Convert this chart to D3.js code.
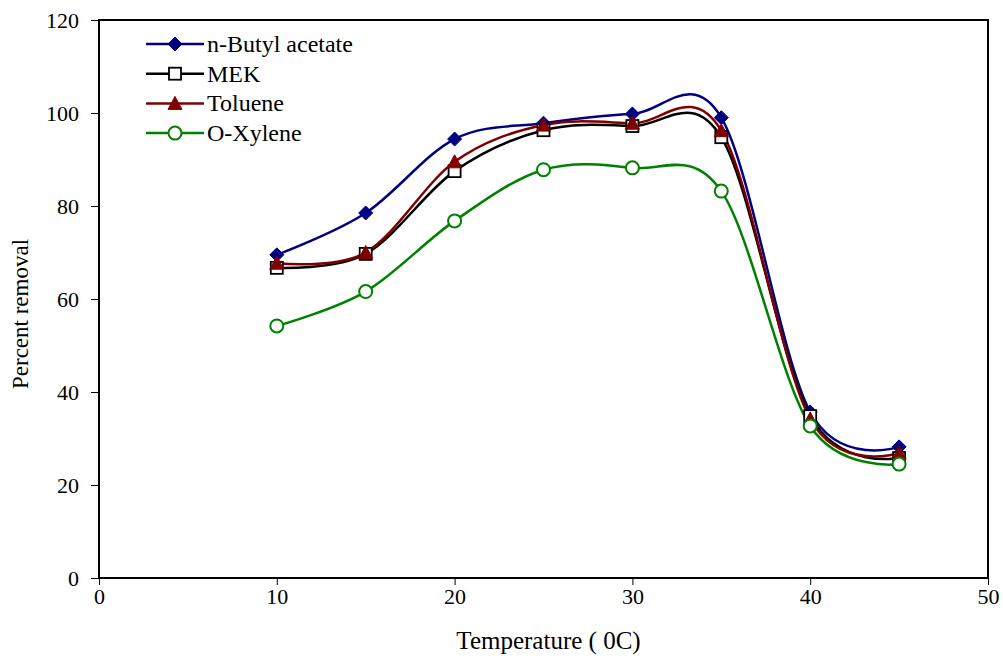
<!DOCTYPE html>
<html>
<head>
<meta charset="utf-8">
<script src="https://cdn.jsdelivr.net/npm/d3@7"></script>
<style>
  html, body { margin: 0; padding: 0; background: #fff; }
  svg { display: block; font-family: "Liberation Serif", "Times New Roman", serif; }
</style>
</head>
<body>
<svg id="chart" width="1003" height="659"></svg>
<script>
// Temperature (°C) readings
const temperatures = [10, 15, 20, 25, 30, 35, 40, 45];

// Percent removal per compound
const butylAcetate = [69.5, 78.5, 94.4, 97.8, 99.8, 99.0, 35.7, 28.2];
const mek          = [66.7, 69.7, 87.5, 96.3, 97.2, 94.8, 34.8, 25.8];
const toluene      = [67.7, 70.0, 89.5, 97.4, 97.8, 96.2, 34.2, 26.9];
const oXylene      = [54.2, 61.6, 76.8, 87.8, 88.2, 83.2, 32.7, 24.5];

const seriesNames = ["n-Butyl acetate", "MEK", "Toluene", "O-Xylene"];
const xTicks = [0, 10, 20, 30, 40, 50];
const yTicks = [0, 20, 40, 60, 80, 100, 120];

const series = [
  { name: seriesNames[0], values: butylAcetate, color: "#000080", marker: "diamond" },
  { name: seriesNames[1], values: mek,          color: "#000000", marker: "square" },
  { name: seriesNames[2], values: toluene,      color: "#800000", marker: "triangle" },
  { name: seriesNames[3], values: oXylene,      color: "#008000", marker: "circle" }
];

const svg = d3.select("#chart");
const margin = { left: 99, right: 15, top: 20, bottom: 81 };
const W = 1003, H = 659;
const serif = "'Liberation Serif', 'Times New Roman', serif";

const x = d3.scaleLinear().domain([0, 50]).range([margin.left, W - margin.right]);
const y = d3.scaleLinear().domain([0, 120]).range([H - margin.bottom, margin.top]);

// Axes
const xAxis = svg.append("g")
  .attr("transform", `translate(0,${y(0)})`)
  .call(d3.axisBottom(x).tickValues(xTicks).tickSize(7).tickPadding(3).tickFormat(d3.format("d")));
const yAxis = svg.append("g")
  .attr("transform", `translate(${x(0)},0)`)
  .call(d3.axisLeft(y).tickValues(yTicks).tickSize(8).tickPadding(12).tickFormat(d3.format("d")));

[xAxis, yAxis].forEach(g => {
  g.select(".domain").remove();
  g.selectAll(".tick line").attr("stroke", "#000").attr("stroke-width", 1);
  g.selectAll(".tick text")
    .attr("fill", "#000")
    .style("font-family", serif)
    .style("font-size", "22px");
});

// Plot frame
svg.append("rect")
  .attr("x", x(0)).attr("y", y(120))
  .attr("width", x(50) - x(0)).attr("height", y(0) - y(120))
  .attr("fill", "none").attr("stroke", "#000").attr("stroke-width", 2);

// Axis titles
svg.append("text")
  .attr("x", (x(0) + x(50)) / 2 + 5).attr("y", 649)
  .attr("text-anchor", "middle")
  .style("font-size", "25px")
  .text("Temperature ( 0C)");

svg.append("text")
  .attr("transform", `translate(28,${(y(0) + y(120)) / 2 + 15}) rotate(-90)`)
  .attr("text-anchor", "middle")
  .style("font-size", "23px")
  .text("Percent removal");

// Marker shapes
function drawMarker(g, type, color, cx, cy) {
  if (type === "diamond") {
    g.append("path")
      .attr("d", `M${cx},${cy - 7}L${cx + 7},${cy}L${cx},${cy + 7}L${cx - 7},${cy}Z`)
      .attr("fill", color).attr("stroke", color).attr("stroke-width", 1);
  } else if (type === "square") {
    g.append("rect")
      .attr("x", cx - 6).attr("y", cy - 6).attr("width", 12).attr("height", 12)
      .attr("fill", "#fff").attr("stroke", color).attr("stroke-width", 1.8);
  } else if (type === "triangle") {
    g.append("path")
      .attr("d", `M${cx},${cy - 7}L${cx + 7},${cy + 6}L${cx - 7},${cy + 6}Z`)
      .attr("fill", color).attr("stroke", color).attr("stroke-width", 1);
  } else {
    g.append("circle")
      .attr("cx", cx).attr("cy", cy).attr("r", 6.5)
      .attr("fill", "#fff").attr("stroke", color).attr("stroke-width", 2);
  }
}

// Smoothed series lines
const line = d3.line()
  .x((d, i) => x(temperatures[i]))
  .y(d => y(d))
  .curve(d3.curveCardinal.tension(0));

series.forEach(s => {
  svg.append("path")
    .datum(s.values)
    .attr("d", line)
    .attr("fill", "none")
    .attr("stroke", s.color)
    .attr("stroke-width", 2.5);
});

series.forEach(s => {
  const g = svg.append("g");
  s.values.forEach((v, i) => drawMarker(g, s.marker, s.color, x(temperatures[i]), y(v)));
});

// Legend
const legend = svg.append("g");
series.forEach((s, i) => {
  const ly = 44 + i * 29.7;
  legend.append("line")
    .attr("x1", 146).attr("x2", 204).attr("y1", ly).attr("y2", ly)
    .attr("stroke", s.color).attr("stroke-width", 2.5);
  drawMarker(legend, s.marker, s.color, 175, ly);
  legend.append("text")
    .attr("x", 207).attr("y", ly + 8)
    .style("font-size", "24px")
    .text(s.name);
});
</script>
</body>
</html>
